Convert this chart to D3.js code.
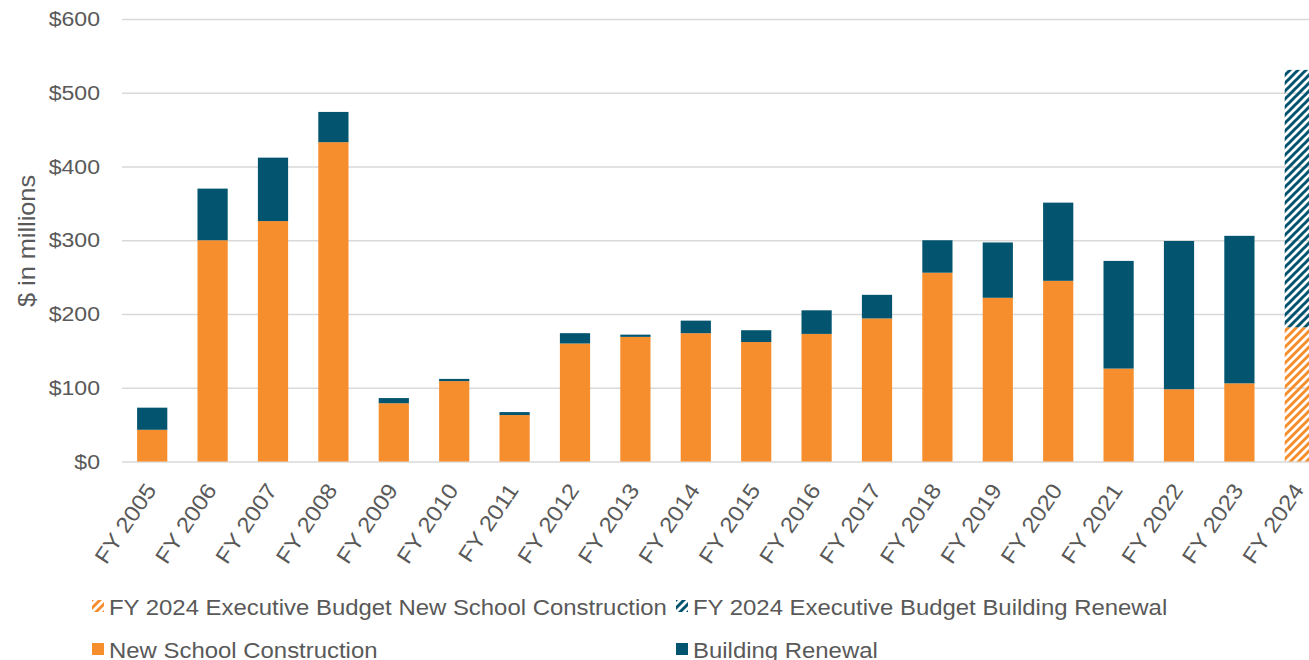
<!DOCTYPE html>
<html>
<head>
<meta charset="utf-8">
<script src="https://cdn.jsdelivr.net/npm/d3@7"></script>
<style>
  body { margin: 0; background: #fff; }
  text { font-family: "Liberation Sans", Arial, sans-serif; fill: #595959; }
</style>
</head>
<body>
<div id="viz"></div>
<script>
"use strict";

// fiscal years shown on the x axis
var years = ["FY 2005", "FY 2006", "FY 2007", "FY 2008", "FY 2009", "FY 2010", "FY 2011",
	"FY 2012", "FY 2013", "FY 2014", "FY 2015", "FY 2016", "FY 2017", "FY 2018",
	"FY 2019", "FY 2020", "FY 2021", "FY 2022", "FY 2023", "FY 2024"];

// $ in millions
var newSchool = [43, 300, 326, 433, 79, 109, 63, 160, 169, 174, 162, 173, 194, 256, 222, 245, 126, 98, 106, 0];
var renewal   = [30, 70, 86, 41, 7, 3, 4, 14, 3, 17, 16, 32, 32, 44, 75, 106, 146, 201, 200, 0];
var budgetNew     = [0, 0, 0, 0, 0, 0, 0, 0, 0, 0, 0, 0, 0, 0, 0, 0, 0, 0, 0, 182];
var budgetRenewal = [0, 0, 0, 0, 0, 0, 0, 0, 0, 0, 0, 0, 0, 0, 0, 0, 0, 0, 0, 349];

var yTicks = [0, 100, 200, 300, 400, 500, 600];

var seriesKeys = ["newSchool", "renewal", "budgetNew", "budgetRenewal"];
var seriesNames = {
	budgetNew: "FY 2024 Executive Budget New School Construction",
	budgetRenewal: "FY 2024 Executive Budget Building Renewal",
	newSchool: "New School Construction",
	renewal: "Building Renewal"
};

var orange = "#f78e2e",
	blue = "#02546f",
	stretch = 1.1;

var width = 1309,
	height = 660,
	plotLeft = 122,
	plotRight = 1330,
	plotTop = 19,
	plotBottom = 461.5;

var rows = years.map(function(y, i) {
	return {
		year: y,
		newSchool: newSchool[i],
		renewal: renewal[i],
		budgetNew: budgetNew[i],
		budgetRenewal: budgetRenewal[i]
	};
});

var svg = d3.select("#viz")
	.append("svg")
	.attr("width", width)
	.attr("height", height);

var defs = svg.append("defs");

var makeHatch = function(id, color) {
	var p = defs.append("pattern")
		.attr("id", id)
		.attr("patternUnits", "userSpaceOnUse")
		.attr("width", 8)
		.attr("height", 8);
	p.append("path")
		.attr("d", "M-2,2 L2,-2 M0,8 L8,0 M6,10 L10,6")
		.attr("stroke", color)
		.attr("stroke-width", 3)
		.attr("stroke-linecap", "square");
};
makeHatch("hatch-orange", orange);
makeHatch("hatch-blue", blue);

var fills = {
	newSchool: orange,
	renewal: blue,
	budgetNew: "url(#hatch-orange)",
	budgetRenewal: "url(#hatch-blue)"
};

var x = d3.scaleBand()
	.domain(years)
	.range([plotLeft, plotRight])
	.paddingInner(0.5)
	.paddingOuter(0.25);

var y = d3.scaleLinear()
	.domain([0, 600])
	.range([plotBottom, plotTop]);

// gridlines + tick labels
var yAxis = svg.append("g")
	.attr("transform", "translate(" + plotLeft + ",0)")
	.call(d3.axisLeft(y)
		.tickValues(yTicks)
		.tickSize(-(plotRight - plotLeft))
		.tickPadding(22)
		.tickFormat(function(d) { return "$" + d; }));

yAxis.select(".domain").remove();
yAxis.selectAll(".tick line")
	.attr("stroke", "#d9d9d9")
	.attr("stroke-width", 1.5);
yAxis.selectAll(".tick text")
	.attr("x", -22 / stretch)
	.attr("transform", "scale(" + stretch + ",1)")
	.attr("font-size", "21px")
	.attr("font-family", "Liberation Sans, Arial, sans-serif")
	.attr("fill", "#595959");

svg.append("text")
	.attr("transform", "translate(35,241) rotate(-90) scale(" + stretch + ",1)")
	.attr("text-anchor", "middle")
	.attr("font-size", "23px")
	.text("$ in millions");

// stacked bars
var stack = d3.stack().keys(seriesKeys);
var layers = stack(rows);

svg.append("g")
	.selectAll("g")
	.data(layers)
	.enter()
	.append("g")
	.attr("fill", function(d) { return fills[d.key]; })
	.selectAll("rect")
	.data(function(d) { return d; })
	.enter()
	.append("rect")
	.attr("x", function(d) { return x(d.data.year); })
	.attr("width", x.bandwidth())
	.attr("y", function(d) { return y(d[1]); })
	.attr("height", function(d) { return y(d[0]) - y(d[1]); });

// x labels
svg.append("g")
	.selectAll("text")
	.data(years)
	.enter()
	.append("text")
	.attr("text-anchor", "end")
	.attr("font-size", "22px")
	.attr("transform", function(d) {
		var cx = x(d) + x.bandwidth() / 2 + 5;
		return "translate(" + cx + ",490) rotate(-56) scale(" + stretch + ",1)";
	})
	.text(function(d) { return d; });

// legend
var legendOrder = ["budgetNew", "budgetRenewal", "newSchool", "renewal"];
var legend = svg.append("g")
	.selectAll("g")
	.data(legendOrder)
	.enter()
	.append("g")
	.attr("transform", function(d, i) {
		var lx = (i % 2 === 0) ? 92 : 676,
			ly = (i < 2) ? 600 : 643;
		return "translate(" + lx + "," + ly + ")";
	});

legend.append("rect")
	.attr("width", 12)
	.attr("height", 12)
	.attr("fill", function(d) { return fills[d]; });

legend.append("text")
	.attr("transform", "translate(17,15) scale(" + 1.088 + ",1)")
	.attr("font-size", "22px")
	.text(function(d) { return seriesNames[d]; });
</script>
</body>
</html>
